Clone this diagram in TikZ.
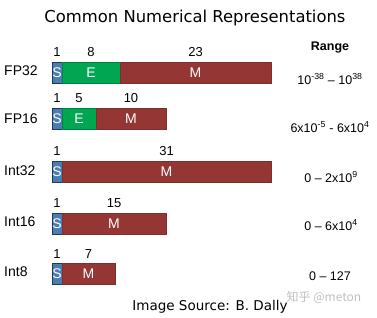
\documentclass[tikz,border=0pt]{standalone}
\usepackage{fontspec}
\setmainfont{Liberation Sans}
\newfontfamily\titlefont{DejaVu Sans}
\newfontfamily\cjkfont{Noto Sans CJK SC}
\usetikzlibrary{positioning}

\definecolor{signblue}{HTML}{4A7DB3}
\definecolor{expgreen}{HTML}{00A651}
\definecolor{mantred}{HTML}{943634}

\tikzset{
  seg/.style={minimum height=21pt, inner sep=0pt, outer sep=0pt, line width=0.6pt,
    text=white, font=\fontsize{14}{14}\selectfont},
  sbit/.style={seg, fill=signblue, draw=signblue!45!black, minimum width=10pt},
  ebit/.style={seg, fill=expgreen, draw=expgreen!80!black},
  mbit/.style={seg, fill=mantred, draw=mantred!85!black},
  bitnum/.style={inner sep=0pt, font=\fontsize{13}{13}\selectfont},
  fmtname/.style={anchor=west, inner sep=0pt, font=\fontsize{14}{14}\selectfont},
  rangetext/.style={inner sep=0pt, font=\fontsize{12.5}{13}\selectfont}
}

\begin{document}
\begin{tikzpicture}[x=1pt,y=-1pt]
  \useasboundingbox (0,0) rectangle (377,317);
  % titel
  \node[font=\titlefont\fontsize{16.4}{18}\selectfont] (title) at (195,18) {Common Numerical Representations};
  \node[font=\bfseries\fontsize{12.5}{13}\selectfont] (range) at (330,48) {Range};

  % FP32 = 1 + 8 + 23
  \node[fmtname] (fp32) at (4,71) {FP32};
  \node[sbit, anchor=west] (fp32s) at (52,72.5) {S};
  \node[ebit, minimum width=58pt, right=0pt of fp32s] (fp32e) {E};
  \node[mbit, minimum width=151pt, right=0pt of fp32e] (fp32m) {M};
  \node[bitnum, above=5pt of fp32s] {1};
  \node[bitnum, above=5pt of fp32e] {8};
  \node[bitnum, above=5pt of fp32m] {23};
  \node[rangetext] (fp32r) at (330,79) {10\textsuperscript{-38} – 10\textsuperscript{38}};

  % FP16 = 1 + 5 + 10
  \node[fmtname] (fp16) at (4,119) {FP16};
  \node[sbit, anchor=west] (fp16s) at (52,118.5) {S};
  \node[ebit, minimum width=34pt, right=0pt of fp16s] (fp16e) {E};
  \node[mbit, minimum width=70pt, right=0pt of fp16e] (fp16m) {M};
  \node[bitnum, above=5pt of fp16s] {1};
  \node[bitnum, above=5pt of fp16e] {5};
  \node[bitnum, above=5pt of fp16m] {10};
  \node[rangetext] (fp16r) at (330,127) {6x10\textsuperscript{-5} - 6x10\textsuperscript{4}};

  % Int32 = 1 + 31
  \node[fmtname] (int32) at (4,171) {Int32};
  \node[sbit, anchor=west] (int32s) at (52,171.5) {S};
  \node[mbit, minimum width=209pt, right=0pt of int32s] (int32m) {M};
  \node[bitnum, above=5pt of int32s] {1};
  \node[bitnum, above=5pt of int32m] {31};
  \node[rangetext] (int32r) at (331,177) {0 – 2x10\textsuperscript{9}};

  % Int16 = 1 + 15
  \node[fmtname] (int16) at (4,222) {Int16};
  \node[sbit, anchor=west] (int16s) at (52,223.5) {S};
  \node[mbit, minimum width=104pt, right=0pt of int16s] (int16m) {M};
  \node[bitnum, above=5pt of int16s] {1};
  \node[bitnum, above=5pt of int16m] {15};
  \node[rangetext] (int16r) at (331,225) {0 – 6x10\textsuperscript{4}};

  % Int8 = 1 + 7
  \node[fmtname] (int8) at (4,272) {Int8};
  \node[sbit, anchor=west] (int8s) at (52,274) {S};
  \node[mbit, minimum width=53pt, right=0pt of int8s] (int8m) {M};
  \node[bitnum, above=5pt of int8s] {1};
  \node[bitnum, above=5pt of int8m] {7};
  \node[rangetext] (int8r) at (330,276) {0 – 127};

  % quelle
  \node[font=\titlefont\fontsize{13.5}{15}\selectfont] (source) at (210,307) {Image Source: B. Dally};
  \node[text=black!25, font=\cjkfont\fontsize{12}{13}\selectfont] (mark) at (324,297) {知乎 @meton};
\end{tikzpicture}
\end{document}
